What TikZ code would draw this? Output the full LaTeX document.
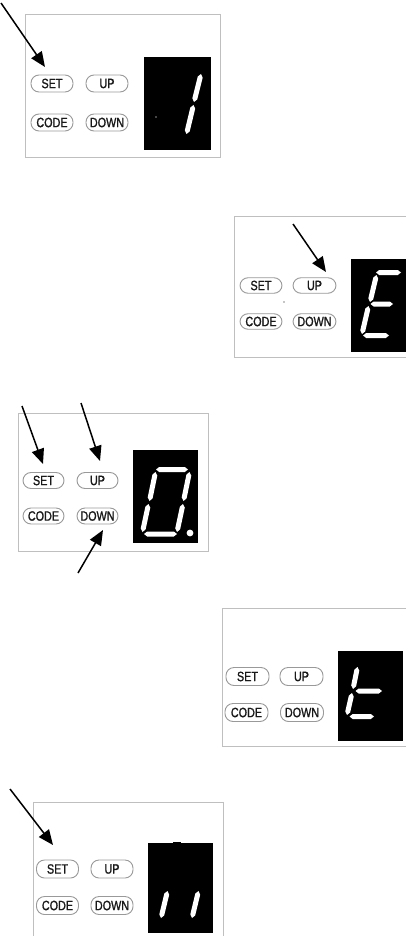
\documentclass[tikz,border=0pt]{standalone}
\usepackage{fontspec}
\newfontfamily\btnfont[FakeStretch=0.8,FakeBold=1.2]{Liberation Sans}
\usetikzlibrary{arrows.meta,calc}
\tikzset{
  frame/.style={draw=black!25,line width=0.9pt},
  disp/.style={fill=black},
  btn/.style={draw=black!40,line width=0.9pt,fill=white,rounded corners=8pt,
    minimum width=42pt,minimum height=17pt,inner sep=0pt,
    font=\btnfont\fontsize{13.5}{13.5}\selectfont,text=black!90},
  arr/.style={line width=1.5pt,-{Triangle[length=15pt,width=12.5pt]}},
  ddot/.style={fill=black!45},
}
\newcommand\sgm[2]{\fill[white] (#1)
  -- ($($(#1)!3.2pt!(#2)$)!2.5pt!90:(#2)$)
  -- ($($(#2)!3.2pt!(#1)$)!2.5pt!-90:(#1)$)
  -- (#2)
  -- ($($(#2)!3.2pt!(#1)$)!2.5pt!90:(#1)$)
  -- ($($(#1)!3.2pt!(#2)$)!2.5pt!-90:(#2)$) -- cycle;}
\begin{document}
\begin{tikzpicture}[x=1pt,y=-1pt]
\useasboundingbox (0,0) rectangle (406,936);
\clip (0,0) rectangle (406,936);
\fill[white] (0,0) rectangle (406,936);

% ---------- Panel 1 ----------
\draw[frame] (25,14) rectangle (220,157);
\fill[disp] (144,57) rectangle (211,150);
\sgm{201,74}{194,102}
\sgm{193.5,105}{186.5,134}
\fill[ddot] (156,117) circle (0.9);
\node[btn] (set1) at (52,83.5) {SET};
\node[btn] (up1) at (107,83.5) {UP};
\node[btn] (code1) at (52,122.5) {CODE};
\node[btn] (down1) at (107,122.5) {DOWN};
\coordinate (a1s) at (1,3);
\coordinate (a1e) at (45,67);
\draw[arr] (a1s) -- (a1e);

% ---------- Panel 2 ----------
\draw[frame] (234,216) rectangle (440,357);
\fill[disp] (351,259) rectangle (430,352);
\sgm{376,272.5}{401,272.5}
\sgm{376.5,275}{370,302}
\sgm{370.5,304}{393,304}
\sgm{368.5,306}{362,334}
\sgm{363,335.5}{389,335.5}
\fill[ddot] (284,302) circle (0.9);
\node[btn,minimum height=15.5pt] (set2) at (261,285.5) {SET};
\node[btn,minimum height=15.5pt,minimum width=43pt] (up2) at (314.5,285.5) {UP};
\node[btn,minimum height=15.5pt] (code2) at (261,321.5) {CODE};
\node[btn,minimum height=15.5pt,minimum width=43pt] (down2) at (314.5,321.5) {DOWN};
\coordinate (a2s) at (293,224);
\coordinate (a2e) at (326,272);
\draw[arr] (a2s) -- (a2e);

% ---------- Panel 3 ----------
\draw[frame] (18,413) rectangle (208,551);
\fill[disp] (133,450) rectangle (198,543);
\sgm{156,469.5}{188,469.5}
\sgm{155.5,472}{149.5,501}
\sgm{189.5,472}{183.5,501}
\sgm{148.5,504}{142.5,532}
\sgm{183,504}{177,532}
\sgm{144,534}{177,534}
\fill[white] (190,533) circle (3.4);
\node[btn,minimum width=41pt,minimum height=16pt] (set3) at (43.5,480.5) {SET};
\node[btn,minimum width=41pt,minimum height=16pt] (up3) at (97.5,480.5) {UP};
\node[btn,minimum width=41pt,minimum height=16pt] (code3) at (43.5,516) {CODE};
\node[btn,minimum width=41pt,minimum height=16pt] (down3) at (97.5,516) {DOWN};
\coordinate (a3s) at (22,406);
\coordinate (a3e) at (43,464);
\draw[arr] (a3s) -- (a3e);
\coordinate (a4s) at (81,403);
\coordinate (a4e) at (100,461);
\draw[arr] (a4s) -- (a4e);
\coordinate (a5s) at (78,573);
\coordinate (a5e) at (103,530);
\draw[arr] (a5s) -- (a5e);

% ---------- Panel 4 ----------
\draw[frame] (222,608) rectangle (440,746);
\fill[disp] (338,651) rectangle (403,741);
\sgm{357.5,667}{353,689}
\sgm{355.5,691}{382,691}
\sgm{352,693}{347,715}
\sgm{349.5,716.5}{374,716.5}
\node[btn,minimum width=43pt,minimum height=18pt] (set4) at (247.5,676.5) {SET};
\node[btn,minimum width=43pt,minimum height=18pt] (up4) at (301.5,676.5) {UP};
\node[btn,minimum width=43pt,minimum height=18pt] (code4) at (246.5,712.5) {CODE};
\node[btn,minimum width=43pt,minimum height=18pt] (down4) at (302,712.5) {DOWN};

% ---------- Panel 5 ----------
\draw[frame] (33,802) rectangle (223,945);
\fill[disp] (148,843) rectangle (213,933);
\fill[disp] (173,841.8) rectangle (181,843.5);
\sgm{167.5,891}{161,918}
\sgm{198.5,891}{192,918}
\node[btn,minimum height=18pt] (set5) at (57.5,869) {SET};
\node[btn,minimum height=18pt] (up5) at (112,869) {UP};
\node[btn,minimum height=18pt] (code5) at (57.5,905.5) {CODE};
\node[btn,minimum height=18pt] (down5) at (112,905.5) {DOWN};
\coordinate (a6s) at (10,789);
\coordinate (a6e) at (53,845);
\draw[arr] (a6s) -- (a6e);
\end{tikzpicture}
\end{document}
